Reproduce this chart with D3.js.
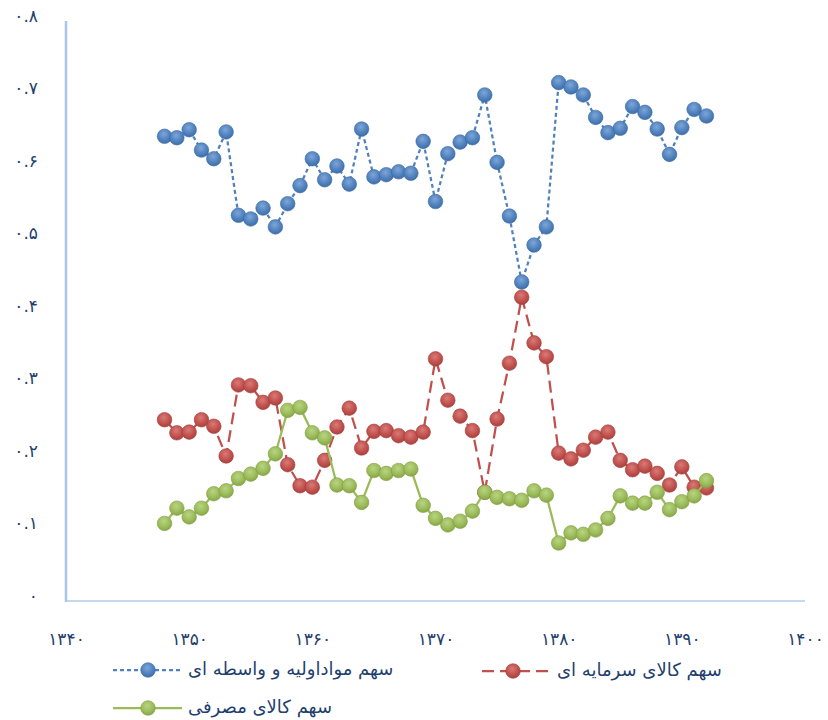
<!DOCTYPE html>
<html><head><meta charset="utf-8">
<script src="https://cdn.jsdelivr.net/npm/d3@7"></script>
<style>
html,body{margin:0;padding:0;background:#fff;}
svg{display:block;}
text{font-family:"DejaVu Sans",sans-serif;fill:#1f3f6e;}
</style></head>
<body>
<svg id="chart" width="828" height="720"></svg>
<script>
const years = d3.range(1348, 1393);
const seriesNames = ["سهم مواداولیه و واسطه ای", "سهم کالای سرمایه ای", "سهم کالای مصرفی"];
const intermediate = [0.641,0.639,0.650,0.622,0.610,0.647,0.532,0.527,0.542,0.516,0.548,0.573,0.610,0.581,0.600,0.575,0.651,0.585,0.588,0.592,0.590,0.634,0.551,0.617,0.633,0.639,0.698,0.605,0.531,0.440,0.491,0.516,0.715,0.709,0.698,0.667,0.646,0.652,0.682,0.674,0.651,0.616,0.653,0.678,0.669];
const capital = [0.250,0.232,0.233,0.250,0.241,0.200,0.298,0.297,0.274,0.280,0.188,0.159,0.157,0.194,0.240,0.266,0.211,0.234,0.235,0.228,0.226,0.233,0.334,0.277,0.255,0.235,0.150,0.251,0.328,0.419,0.356,0.337,0.204,0.196,0.208,0.226,0.233,0.194,0.181,0.186,0.176,0.160,0.185,0.157,0.156];
const consumer = [0.107,0.128,0.116,0.128,0.148,0.152,0.169,0.175,0.183,0.203,0.263,0.267,0.232,0.225,0.160,0.159,0.136,0.180,0.176,0.180,0.182,0.132,0.114,0.105,0.110,0.124,0.150,0.143,0.141,0.139,0.152,0.146,0.080,0.094,0.092,0.098,0.114,0.145,0.135,0.135,0.150,0.126,0.137,0.145,0.166];
const xTicks = [1340,1350,1360,1370,1380,1390,1400];
const xTickLabels = ["۱۳۴۰","۱۳۵۰","۱۳۶۰","۱۳۷۰","۱۳۸۰","۱۳۹۰","۱۴۰۰"];
const yTicks = [0,0.1,0.2,0.3,0.4,0.5,0.6,0.7,0.8];
const yTickLabels = ["۰","۰.۱","۰.۲","۰.۳","۰.۴","۰.۵","۰.۶","۰.۷","۰.۸"];

const svg = d3.select("#chart");
const x = d3.scaleLinear().domain([1340,1400]).range([66,805]);
const y = d3.scaleLinear().domain([0,0.8]).range([601,21]);

const defs = svg.append("defs");
const styles = [
  {color:"#4f81bd", light:"#7ea6d8", dark:"#3c6aa3", dash:"4,3", data:intermediate},
  {color:"#c0504d", light:"#d97a77", dark:"#a33f3c", dash:"12,6", data:capital},
  {color:"#9bbb59", light:"#b9d483", dark:"#82a043", dash:null, data:consumer}
];
styles.forEach((s,i)=>{
  const g = defs.append("radialGradient").attr("id","g"+i).attr("cx","45%").attr("cy","35%").attr("r","70%");
  g.append("stop").attr("offset","0%").attr("stop-color",s.light);
  g.append("stop").attr("offset","60%").attr("stop-color",s.color);
  g.append("stop").attr("offset","100%").attr("stop-color",s.dark);
});

const xAxis = d3.axisBottom(x).tickValues(xTicks).tickSize(0).tickPadding(0)
  .tickFormat((d,i)=>xTickLabels[i]);
const gx = svg.append("g").attr("transform","translate(0,601)").call(xAxis);
gx.select(".domain").attr("stroke","#c6d8ef").attr("stroke-width",2).attr("d","M66,0H805");
gx.selectAll("text").attr("font-size",17).attr("dy",null).attr("y",44).attr("fill","#1f3f6e");

const yAxis = d3.axisLeft(y).tickValues(yTicks).tickSize(0).tickPadding(0)
  .tickFormat((d,i)=>yTickLabels[i]);
const gy = svg.append("g").attr("transform","translate(66,0)").call(yAxis);
gy.select(".domain").attr("stroke","#a9c5ec").attr("stroke-width",2.5).attr("d","M0,21V602");
gy.selectAll("text").attr("font-size",17).attr("x",-28).attr("dy",null).attr("y",0).attr("fill","#1f3f6e");

styles.forEach((s,i)=>{
  const pts = years.map((yr,k)=>({yr, v:s.data[k]}));
  const line = d3.line().x(d=>x(d.yr)).y(d=>y(d.v));
  svg.append("path").datum(pts).attr("d",line).attr("fill","none")
    .attr("stroke",s.color).attr("stroke-width",2.25)
    .attr("stroke-dasharray",s.dash);
  svg.append("g").selectAll("circle").data(pts).join("circle")
    .attr("cx",d=>x(d.yr)).attr("cy",d=>y(d.v)).attr("r",7.3)
    .attr("fill","url(#g"+i+")").attr("stroke",s.dark).attr("stroke-width",0.6);
});

const legendItems = [
  {lx:113, ly:670, mx:148, tx:188},
  {lx:482, ly:671, mx:513, tx:557},
  {lx:113, ly:708, mx:148, tx:188}
];
legendItems.forEach((L,i)=>{
  const s = styles[i];
  const g = svg.append("g");
  g.append("line").attr("x1",L.lx).attr("x2",L.lx+69).attr("y1",L.ly).attr("y2",L.ly)
    .attr("stroke",s.color).attr("stroke-width",2.25).attr("stroke-dasharray",s.dash);
  g.append("circle").attr("cx",L.mx).attr("cy",L.ly).attr("r",7.3)
    .attr("fill","url(#g"+i+")").attr("stroke",s.dark).attr("stroke-width",0.6);
  g.append("text").attr("x",L.tx).attr("y",L.ly+5).attr("font-size",18)
    .attr("fill","#1f3f6e").text(seriesNames[i]);
});
</script>
</body></html>
